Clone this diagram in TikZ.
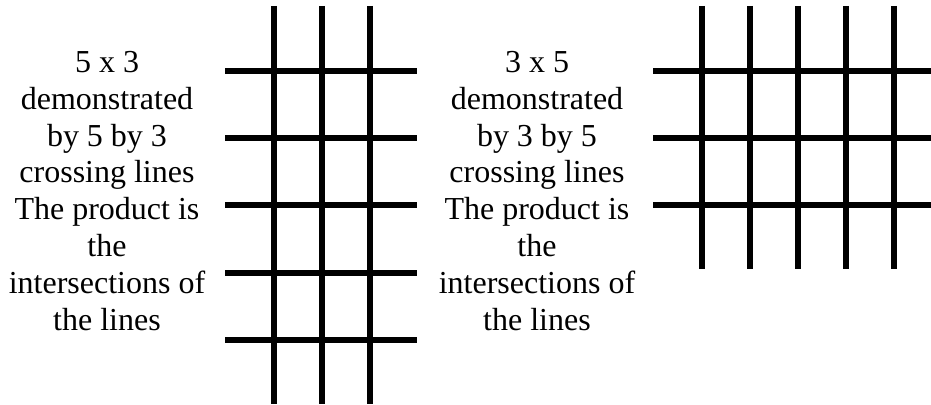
\documentclass[tikz,border=0pt]{standalone}
\usepackage{fontspec}
\setmainfont{Liberation Serif}
\begin{document}
\begin{tikzpicture}[x=1pt,y=-1pt,
  gridline/.style={line width=6pt,line cap=butt},
  caption/.style={font=\fontsize{32}{36.8}\selectfont,align=center,inner sep=0pt,anchor=base}]
\useasboundingbox (0,0) rectangle (931,404);
% left text (anchor = baseline of last line)
\node[caption] (lefttext) at (107,330) {5 x 3\\demonstrated\\by 5 by 3\\crossing lines\\The product is\\the\\intersections of\\the lines};
% right text
\node[caption] (righttext) at (537,330) {3 x 5\\demonstrated\\by 3 by 5\\crossing lines\\The product is\\the\\intersections of\\the lines};
% left grid
\foreach \x in {274,322,370} \draw[gridline] (\x,6) -- (\x,404);
\foreach \y in {71,138,205,273,340} \draw[gridline] (225,\y) -- (417,\y);
% right grid
\foreach \x in {702,750,798,846,894} \draw[gridline] (\x,6) -- (\x,269);
\foreach \y in {71,138,205} \draw[gridline] (653,\y) -- (931,\y);
\end{tikzpicture}
\end{document}
